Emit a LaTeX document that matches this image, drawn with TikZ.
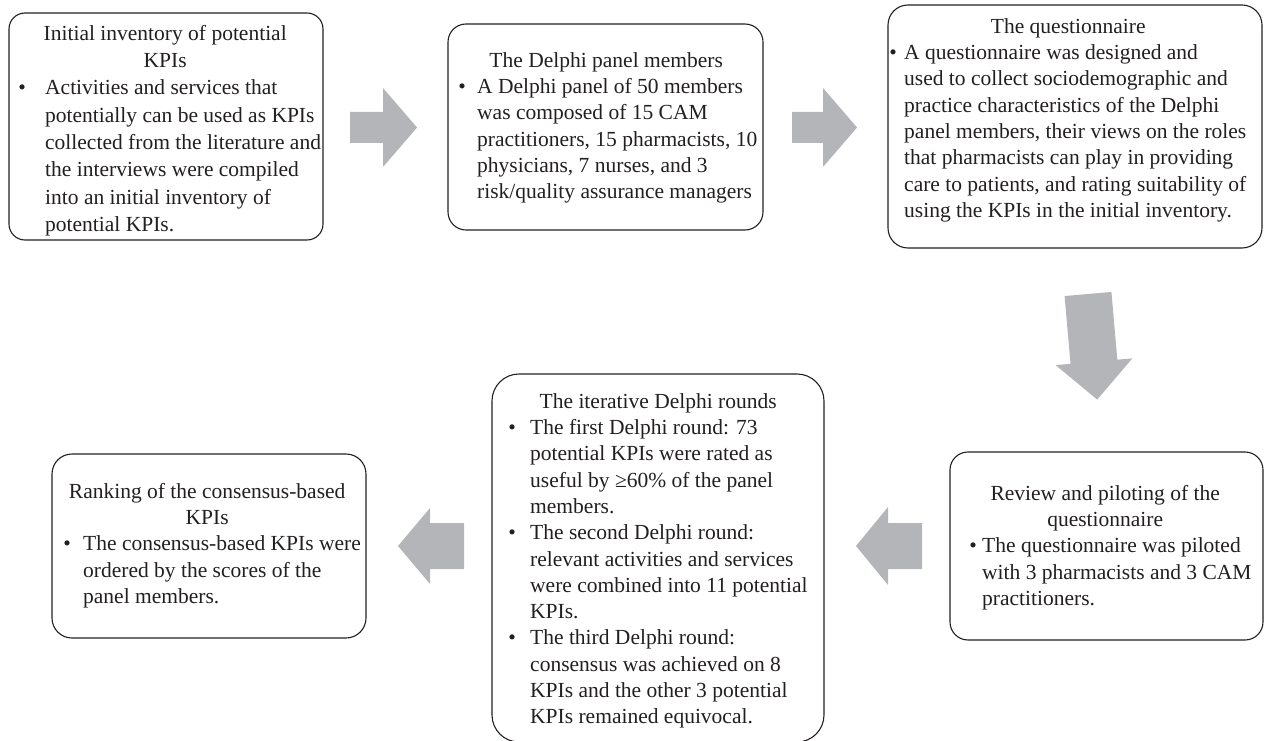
\documentclass[tikz,border=0pt]{standalone}
\usepackage{fontspec}
\setmainfont{Liberation Serif}
\definecolor{arrowgray}{RGB}{180,181,185}
\definecolor{boxline}{RGB}{35,31,32}
\definecolor{txtcol}{RGB}{35,31,32}
\newcommand\blockarrow[7]{% tail x, tail y, angle, shaft length, head length, shaft half width, head half width
  \fill[arrowgray, shift={(#1,#2)}, rotate=#3] (0,#6) -- (#4,#6) -- (#4,#7) -- (#4+#5,0) -- (#4,-#7) -- (#4,-#6) -- (0,-#6) -- cycle;}
\newcommand\ttl[2]{\makebox[0pt][l]{\hspace{#1pt}\makebox[0pt][c]{#2}}}
\newcommand\firstln{\rule{0pt}{21pt}}
\newcommand\bul[1]{\llap{\makebox[0pt][c]{\textbullet}\hspace{#1pt}}}
\begin{document}
\begin{tikzpicture}[x=1pt,y=-1pt,
  box/.style={draw=boxline, line width=1.1pt, rectangle, inner sep=0pt},
  txt/.style={anchor=north west, inner sep=0pt, align=left, text=txtcol, font=\fontsize{21.5}{26.3}\selectfont}]
\useasboundingbox (0,0) rectangle (1264,741);
% boxes
\node[box, rounded corners=16pt, minimum width=314pt, minimum height=227pt] (b1) at (166,126.5) {};
\node[box, rounded corners=18pt, minimum width=315pt, minimum height=206pt] (b2) at (605.5,127) {};
\node[box, rounded corners=20pt, minimum width=374pt, minimum height=243pt] (b3) at (1075,126.5) {};
\node[box, rounded corners=27pt, minimum width=332pt, minimum height=368pt] (b4) at (658,558) {};
\node[box, rounded corners=18pt, minimum width=313pt, minimum height=188pt] (b5) at (1106.5,546) {};
\node[box, rounded corners=20pt, minimum width=314pt, minimum height=184pt] (b6) at (209,546) {};
% texts
\node[txt, font=\fontsize{21.5}{27.3}\selectfont] (t1) at (45,19) {\firstln\ttl{120}{Initial inventory of potential}\\
\ttl{120}{KPIs}\\
\bul{23}Activities and services that\\
potentially can be used as KPIs\\
collected from the literature and\\
the interviews were compiled\\
into an initial inventory of\\
potential KPIs.};
\node[txt] (t2) at (477,46) {\firstln\ttl{129}{The Delphi panel members}\\
\bul{15}A Delphi panel of 50 members\\
was composed of 15 CAM\\
practitioners, 15 pharmacists, 10\\
physicians, 7 nurses, and 3\\
risk/quality assurance managers};
\node[txt] (t3) at (904,12) {\firstln\ttl{164}{The questionnaire}\\
\bul{11}A questionnaire was designed and\\
used to collect sociodemographic and\\
practice characteristics of the Delphi\\
panel members, their views on the roles\\
that pharmacists can play in providing\\
care to patients, and rating suitability of\\
using the KPIs in the initial inventory.};
\node[txt] (t4) at (530,387) {\firstln\ttl{128}{The iterative Delphi rounds}\\
\bul{18}The first Delphi round: 73\\
potential KPIs were rated as\\
useful by ≥60\% of the panel\\
members.\\
\bul{18}The second Delphi round:\\
relevant activities and services\\
were combined into 11 potential\\
KPIs.\\
\bul{18}The third Delphi round:\\
consensus was achieved on 8\\
KPIs and the other 3 potential\\
KPIs remained equivocal.};
\node[txt] (t5) at (982,479) {\firstln\ttl{123}{Review and piloting of the}\\
\ttl{123}{questionnaire}\\
\bul{9}The questionnaire was piloted\\
with 3 pharmacists and 3 CAM\\
practitioners.};
\node[txt] (t6) at (83,477) {\firstln\ttl{124}{Ranking of the consensus-based}\\
\ttl{124}{KPIs}\\
\bul{16}The consensus-based KPIs were\\
ordered by the scores of the\\
panel members.};
% block arrows
\blockarrow{350}{127.5}{0}{33}{34}{15.5}{39.5}
\blockarrow{792}{127.5}{0}{31}{34}{15.5}{39.5}
\blockarrow{1088}{294}{-85}{68}{38}{23.5}{38.5}
\blockarrow{922}{546}{180}{34}{32}{23}{39}
\blockarrow{464}{546}{180}{34}{32}{23}{38}
\end{tikzpicture}
\end{document}
